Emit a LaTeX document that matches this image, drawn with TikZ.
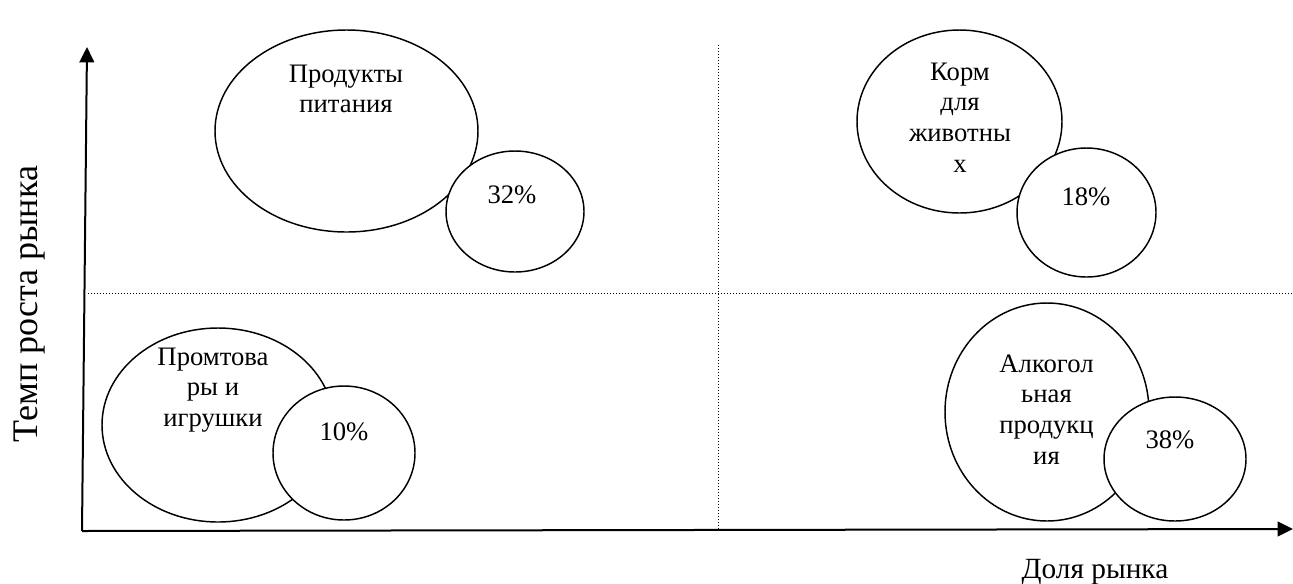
\documentclass[tikz,border=0pt]{standalone}
\usepackage{fontspec}
\setmainfont{Liberation Serif}
\usetikzlibrary{shapes.geometric, arrows.meta}

\begin{document}
\begin{tikzpicture}[x=0.75pt, y=-0.75pt,
    bigoval/.style={draw, ellipse, line width=1.1pt, inner sep=0pt},
    share/.style={draw, ellipse, fill=white, line width=1.1pt, inner sep=0pt},
    axisline/.style={-{Triangle[length=11.5pt, width=11pt]}, line width=1.5pt},
    guide/.style={line width=0.75pt, dash pattern=on 0.75pt off 1.5pt},
    lbl/.style={align=center, font=\fontsize{20}{23}\selectfont,
                inner sep=0pt, anchor=north},
    pct/.style={font=\fontsize{20}{23}\selectfont, inner sep=0pt, anchor=base},
    axlbl/.style={font=\fontsize{22}{26}\selectfont, inner sep=0pt},
]
\useasboundingbox (0,0) rectangle (1293,583);

% --- Quadrant guides ---
\draw[guide] (88,293) -- (1293,293);
\draw[guide] (718,45) -- (718,530);

% --- Axes ---
\coordinate (o) at (82,531);
\coordinate (ytop) at (87,47);
\coordinate (xend) at (1293,529);
\draw[axisline] (o) -- (ytop);
\draw[axisline] (o) -- (xend);

% --- Segments ---
\node[bigoval, minimum width=197.25pt, minimum height=151.5pt] (food) at (346.5,131) {};
\node[bigoval, minimum width=153.75pt, minimum height=137.25pt] (feed) at (959.5,121.5) {};
\node[bigoval, minimum width=174pt, minimum height=145.5pt] (goods) at (218,425) {};
\node[bigoval, minimum width=153pt, minimum height=163.5pt] (alco) at (1047,412) {};

\node[lbl] (foodtxt) at (346,64.3) {Продукты\\питания};
\node[lbl] (feedtxt) at (960,62.3) {Корм\\для\\животны\\х};
\node[lbl] (goodstxt) at (213,347.3) {Промтова\\ры и\\игрушки};
\node[lbl] (alcotxt) at (1046.5,354.3) {Алкогол\\ьная\\продукц\\ия};

% --- Shares ---
\node[share, minimum width=103.5pt, minimum height=90.75pt] (foodsh) at (515,211.5) {};
\node[share, minimum width=104.25pt, minimum height=96.75pt] (feedsh) at (1086.5,212.5) {};
\node[share, minimum width=106.5pt, minimum height=100.5pt] (goodssh) at (344,453) {};
\node[share, minimum width=106.5pt, minimum height=93pt] (alcosh) at (1175,459) {};

\node[pct] (foodpct) at (512,203) {32\%};
\node[pct] (feedpct) at (1086,205) {18\%};
\node[pct] (goodspct) at (344,440) {10\%};
\node[pct] (alcopct) at (1170,448) {38\%};

% --- Axis labels ---
\node[axlbl, anchor=base] (xlbl) at (1095,578) {Доля рынка};
\node[axlbl, rotate=90, font=\fontsize{27}{31}\selectfont] (ylbl) at (30,304) {Темп роста рынка};
\end{tikzpicture}
\end{document}
